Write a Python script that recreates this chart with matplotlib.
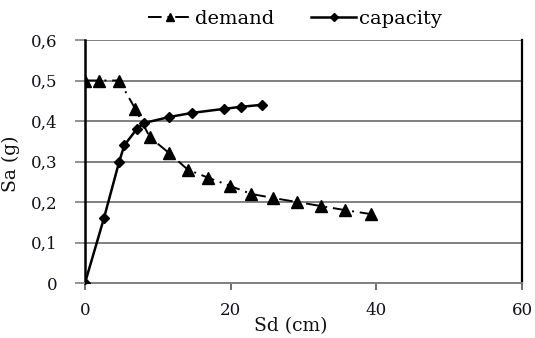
import matplotlib
matplotlib.use("Agg")
import matplotlib.pyplot as plt
from matplotlib.ticker import FuncFormatter

demand_sd = [0.0, 1.9, 4.7, 6.9, 8.9, 11.6, 14.1, 16.9, 19.9, 22.8, 25.8, 29.1, 32.4, 35.7, 39.3]
demand_sa = [0.50, 0.50, 0.50, 0.43, 0.36, 0.32, 0.28, 0.26, 0.24, 0.22, 0.21, 0.20, 0.19, 0.18, 0.17]
capacity_sd = [0.0, 2.6, 4.7, 5.4, 7.1, 8.1, 11.6, 14.7, 19.1, 21.4, 24.3]
capacity_sa = [0.0, 0.16, 0.30, 0.34, 0.38, 0.395, 0.41, 0.42, 0.43, 0.435, 0.44]
x_ticks = [0, 20, 40, 60]
y_ticks = [0, 0.1, 0.2, 0.3, 0.4, 0.5, 0.6]

plt.rcParams['font.family'] = ['DejaVu Serif', 'Liberation Serif']

fig = plt.figure(figsize=(5.35, 3.38), dpi=100)
ax = fig.add_axes([85/535, 1-283/338, (522-85)/535, (283-40)/338])

ax.plot(demand_sd, demand_sa, color='black', linestyle=(0, (7, 3, 1, 3)), linewidth=1.4,
        marker='^', markersize=8, label='demand', zorder=3)
ax.plot(capacity_sd, capacity_sa, color='black', linestyle='-', linewidth=1.8,
        marker='D', markersize=5.5, label='capacity', zorder=4)

ax.set_xlim(0, 60)
ax.set_ylim(0, 0.6)
ax.set_xticks(x_ticks)
ax.set_yticks(y_ticks)
ax.yaxis.set_major_formatter(FuncFormatter(lambda v, p: '0' if abs(v) < 1e-9 else f'{v:.1f}'.replace('.', ',')))
ax.xaxis.set_major_formatter(FuncFormatter(lambda v, p: f'{int(v)}'))

ax.grid(axis='y', color='#808080', linewidth=1.4)
ax.set_axisbelow(True)
ax.spines['top'].set_visible(False)
ax.spines['left'].set_color('black')
ax.spines['left'].set_linewidth(1.8)
ax.spines['right'].set_color('black')
ax.spines['right'].set_linewidth(1.6)
ax.spines['bottom'].set_color('#808080')
ax.spines['bottom'].set_linewidth(1.4)

ax.tick_params(axis='y', direction='out', length=7, width=1.2, color='#808080', labelsize=12, pad=13,
               labelcolor='#111122')
ax.tick_params(axis='x', direction='out', length=5, width=1.2, color='#555555', labelsize=12, pad=9,
               labelcolor='#111122')

ax.set_xlabel('Sd (cm)', fontsize=13.5, color='#111111')
ax.set_ylabel('Sa (g)', fontsize=13.5, color='#111111')
ax.xaxis.set_label_coords(0.471, -0.142)
ax.yaxis.set_label_coords(-0.148, 0.49)

leg = fig.legend(loc='center', bbox_to_anchor=(0.551, 0.944), ncol=2, frameon=False, fontsize=14,
                 handlelength=2.3, columnspacing=1.9, handletextpad=0.15, borderaxespad=0.0,
                 borderpad=0.0, markerscale=0.75)

fig.savefig('out.png', dpi=100)
